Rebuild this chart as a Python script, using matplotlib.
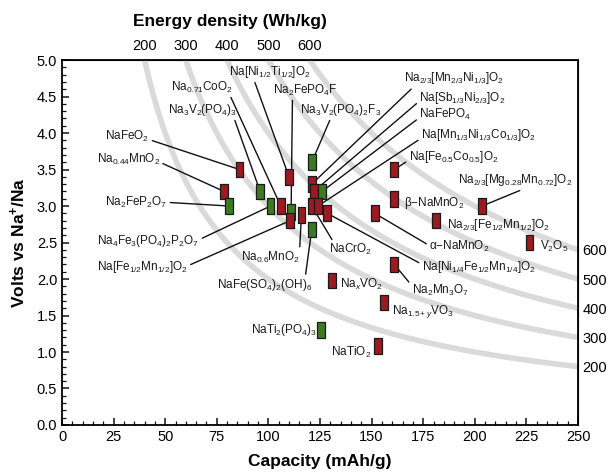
import matplotlib.pyplot as plt
import numpy as np
from matplotlib.path import Path
from matplotlib.ticker import MultipleLocator

plt.rcParams['font.family'] = ['Liberation Sans', 'DejaVu Sans']
plt.rcParams['mathtext.fontset'] = 'custom'
plt.rcParams['mathtext.rm'] = 'Liberation Sans'
plt.rcParams['mathtext.it'] = 'Liberation Sans:italic'
plt.rcParams['mathtext.bf'] = 'Liberation Sans:bold'

# Electrode materials (capacity in mAh/g, average voltage vs Na+/Na)
names = [
    'NaFeO$_2$', 'Na$_{0.44}$MnO$_2$', 'Na$_2$FeP$_2$O$_7$', 'Na$_3$V$_2$(PO$_4$)$_3$',
    'Na$_4$Fe$_3$(PO$_4$)$_2$P$_2$O$_7$', 'Na$_{0.71}$CoO$_2$', 'Na[Ni$_{1/2}$Ti$_{1/2}$]O$_2$',
    'Na$_2$FePO$_4$F', 'Na[Fe$_{1/2}$Mn$_{1/2}$]O$_2$', 'Na$_{0.6}$MnO$_2$',
    'Na$_3$V$_2$(PO$_4$)$_2$F$_3$', 'Na$_{2/3}$[Mn$_{2/3}$Ni$_{1/3}$]O$_2$',
    'Na[Sb$_{1/3}$Ni$_{2/3}$]O$_2$', 'NaFePO$_4$', 'NaCrO$_2$',
    'Na[Mn$_{1/3}$Ni$_{1/3}$Co$_{1/3}$]O$_2$', 'Na[Ni$_{1/4}$Fe$_{1/2}$Mn$_{1/4}$]O$_2$',
    'NaFe(SO$_4$)$_2$(OH)$_6$', 'Na[Fe$_{0.5}$Co$_{0.5}$]O$_2$', 'β−NaMnO$_2$',
    'α−NaMnO$_2$', 'Na$_{2/3}$[Mg$_{0.28}$Mn$_{0.72}$]O$_2$',
    'Na$_{2/3}$[Fe$_{1/2}$Mn$_{1/2}$]O$_2$', 'V$_2$O$_5$', 'Na$_2$Mn$_3$O$_7$',
    'Na$_x$VO$_2$', 'Na$_{1.5+y}$VO$_3$', 'NaTi$_2$(PO$_4$)$_3$', 'NaTiO$_2$',
]
capacity = [86, 78.5, 81, 96, 101, 106, 110, 111, 110.5, 116, 121, 121, 122, 126, 121,
            124, 128.5, 121, 161, 161, 151.5, 203.5, 181, 226.5, 161, 131, 156, 125.5, 153]
voltage = [3.5, 3.2, 3.0, 3.2, 3.0, 3.0, 3.4, 2.92, 2.8, 2.88, 3.6, 3.3, 3.2, 3.2, 3.0,
           3.0, 2.9, 2.68, 3.5, 3.1, 2.9, 3.0, 2.8, 2.5, 2.2, 1.98, 1.68, 1.3, 1.08]
# True for polyanion compounds (green), False for oxides (red)
polyanion = [False, False, True, True, True, False, False, True, False, False, True,
             False, False, True, False, False, False, True, False, False, False, False,
             False, False, False, False, False, True, False]

energy_levels = [200, 300, 400, 500, 600]

# label layout: text position, alignment, leader start on text box (None = no leader)
label_layout = [
    (31.7, 3.95, 'center', (1, 0.3)), (32.2, 3.64, 'center', (1, 0.3)),
    (36.1, 3.05, 'center', (1, 0.5)), (68.2, 4.32, 'center', (0.95, 0)),
    (41.9, 2.52, 'center', (1, 0.6)), (67.7, 4.63, 'center', (0.95, 0)),
    (100.9, 4.84, 'center', (0.3, 0)), (117.9, 4.59, 'center', (0.3, 0)),
    (39.0, 2.16, 'center', (1, 0.6)), (100.9, 2.30, 'center', (1, 1)),
    (135.0, 4.32, 'center', (0.38, 0)), (190.0, 4.75, 'center', (0.1, 0)),
    (194.0, 4.48, 'center', (0, 0.3)), (185.7, 4.25, 'center', (0, 0.3)),
    (139.9, 2.40, 'center', (0.1, 1)), (201.8, 3.97, 'center', (0, 0.3)),
    (201.8, 2.16, 'center', (0, 0.7)), (98.0, 1.92, 'center', (0.93, 1)),
    (189.6, 3.67, 'center', (0, 0.3)), (165.7, 3.04, 'left', None),
    (192.5, 2.44, 'center', (0, 0.6)), (219.5, 3.36, 'center', (0.6, 0)),
    (186.6, 2.74, 'left', None), (231.5, 2.44, 'left', None),
    (183.2, 1.85, 'center', (0, 0.8)), (134.5, 1.92, 'left', None),
    (159.8, 1.55, 'left', None), (123.5, 1.30, 'right', None),
    (149.8, 0.99, 'right', None),
]

fig = plt.figure(figsize=(6.11, 4.73), dpi=100)
ax = fig.add_axes([0.1015, 0.1015, 0.8445, 0.7715])

# iso-energy-density curves (E = V * C)
for e in energy_levels:
    c = np.linspace(e / 5, 250, 300)
    ax.plot(c, e / c, color='#dadada', lw=4, solid_capstyle='round', zorder=1)

text_color = '#1a1a1a'
for name, c, v, (tx, ty, ha, rel) in zip(names, capacity, voltage, label_layout):
    if rel is None:
        ax.text(tx, ty, name, ha=ha, va='center', fontsize=8.5, color=text_color, zorder=4)
    else:
        ax.annotate(name, xy=(c, v), xytext=(tx, ty), ha=ha, va='center',
                    fontsize=8.5, color=text_color, zorder=2,
                    arrowprops=dict(arrowstyle='-', color='#111111', lw=1.0,
                                    relpos=rel, shrinkA=0, shrinkB=3))

rect = Path([(-0.5, -1), (0.5, -1), (0.5, 1), (-0.5, 1), (-0.5, -1)],
            [Path.MOVETO, Path.LINETO, Path.LINETO, Path.LINETO, Path.CLOSEPOLY])
colors = ['#3c7a22' if p else '#9c1a22' for p in polyanion]
ax.scatter(capacity, voltage, marker=rect, s=128, c=colors, edgecolors='#1a1a1a',
           linewidths=0.9, zorder=3)

ax.set_xlim(0, 250)
ax.set_ylim(0, 5)
ax.xaxis.set_major_locator(MultipleLocator(25))
ax.xaxis.set_minor_locator(MultipleLocator(5))
ax.yaxis.set_major_locator(MultipleLocator(0.5))
ax.yaxis.set_minor_locator(MultipleLocator(0.1))
ax.yaxis.set_major_formatter(plt.FormatStrFormatter('%.1f'))
ax.tick_params(which='both', direction='in', top=False, right=False,
               labelsize=10.5, color='#111111')
ax.tick_params(which='major', length=5, width=1.1)
ax.tick_params(which='minor', length=3, width=0.9)
for s in ax.spines.values():
    s.set_linewidth(1.3)

ax.set_xlabel('Capacity (mAh/g)', fontsize=12.5, fontweight='bold', labelpad=7)
ax.set_ylabel(r'Volts vs Na$^\mathbf{+}$/Na', fontsize=12.5, fontweight='bold', labelpad=6)

secx = ax.secondary_xaxis('top')
secx.set_xticks([e / 5 for e in energy_levels], labels=[str(e) for e in energy_levels])
secx.tick_params(length=0, labelsize=10.5, pad=5)
ax.text(0.325, 1.105, 'Energy density (Wh/kg)', transform=ax.transAxes, ha='center',
        va='center', fontsize=12.5, fontweight='bold')

secy = ax.secondary_yaxis('right')
secy.set_yticks([e / 250 for e in energy_levels], labels=[str(e) for e in energy_levels])
secy.tick_params(length=0, labelsize=10.5, pad=3)

fig.savefig('out.png', dpi=100)
